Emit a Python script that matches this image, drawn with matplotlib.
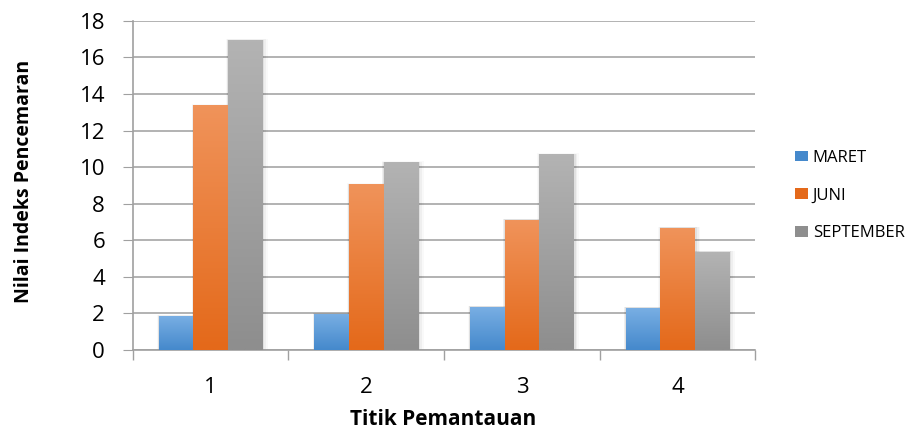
import numpy as np
import matplotlib.pyplot as plt
from matplotlib.colors import to_rgb
from matplotlib.patches import Rectangle, Patch

# monitoring points and pollution index per sampling month
points = ["1", "2", "3", "4"]
months = ["MARET", "JUNI", "SEPTEMBER"]
maret = [1.84, 1.97, 2.35, 2.30]
juni = [13.38, 9.04, 7.11, 6.68]
september = [16.95, 10.25, 10.69, 5.36]

# (top colour, bottom colour) for the vertical gradient on each series
shades = [("#78aee3", "#4589cc"), ("#f0935a", "#e4691a"), ("#b3b3b3", "#8e8e8e")]

plt.rcParams["font.family"] = ["Open Sans", "DejaVu Sans"]

fig = plt.figure(figsize=(9.1, 4.37), dpi=100)
ax = fig.add_axes([0.146, 0.200, 0.684, 0.752])

x = np.arange(len(points))
bw = 1 / 4.5
series = [maret, juni, september]


def grad_bar(ax, x0, h, top, bottom):
    # soft drop shadow, a little to the right and below
    for k, a in enumerate([0.06, 0.04, 0.025]):
        d = 0.008 * (k + 1)
        ax.add_patch(Rectangle((x0 - d * 0.5, 0), bw + d * 2.0, h + d * 2.5,
                               facecolor="black", alpha=a, lw=0, zorder=2,
                               clip_on=False))
    c1 = np.array(to_rgb(top))
    c2 = np.array(to_rgb(bottom))
    t = np.linspace(0, 1, 64)[:, None]
    img = (c2 * (1 - t) + c1 * t)[:, None, :]
    ax.imshow(img, extent=(x0, x0 + bw, 0, h), origin="lower",
              aspect="auto", zorder=3, interpolation="bilinear")


for i, vals in enumerate(series):
    for j, v in enumerate(vals):
        x0 = x[j] - 1.5 * bw + i * bw
        grad_bar(ax, x0, v, *shades[i])

ax.set_xlim(-0.5, len(points) - 0.5)
ax.set_ylim(0, 18)
ax.set_yticks(range(0, 19, 2))
ax.set_xticks(x)
ax.set_xticklabels(points)
ax.set_xticks(np.arange(-0.5, len(points)), minor=True)
ax.tick_params(axis="x", which="major", length=0, labelsize=16, pad=20)
ax.tick_params(axis="x", which="minor", length=7, color="#a0a0a0", width=1)
ax.tick_params(axis="y", length=7, color="#a0a0a0", labelsize=16, pad=13)
ax.yaxis.grid(True, color="#a6a6a6", lw=1.2, zorder=1)
ax.set_axisbelow(True)
for s in ["top", "right"]:
    ax.spines[s].set_visible(False)
for s in ["left", "bottom"]:
    ax.spines[s].set_color("#a0a0a0")
    ax.spines[s].set_linewidth(1.2)

fig.text(0.487, 0.039, "Titik Pemantauan", fontsize=15, fontweight="bold",
         ha="center", va="center")
fig.text(0.026, 0.585, "Nilai Indeks Pencemaran", fontsize=14,
         fontweight="bold", rotation=90, ha="center", va="center")

handles = [Patch(facecolor=shades[i][1], label=m) for i, m in enumerate(months)]
fig.legend(handles=handles, loc="upper left", bbox_to_anchor=(0.874, 0.657),
           frameon=False, fontsize=12, handlelength=0.75, handleheight=0.6,
           handletextpad=0.3, labelspacing=1.3, borderpad=0,
           borderaxespad=0)

fig.savefig("out.png", dpi=100)
